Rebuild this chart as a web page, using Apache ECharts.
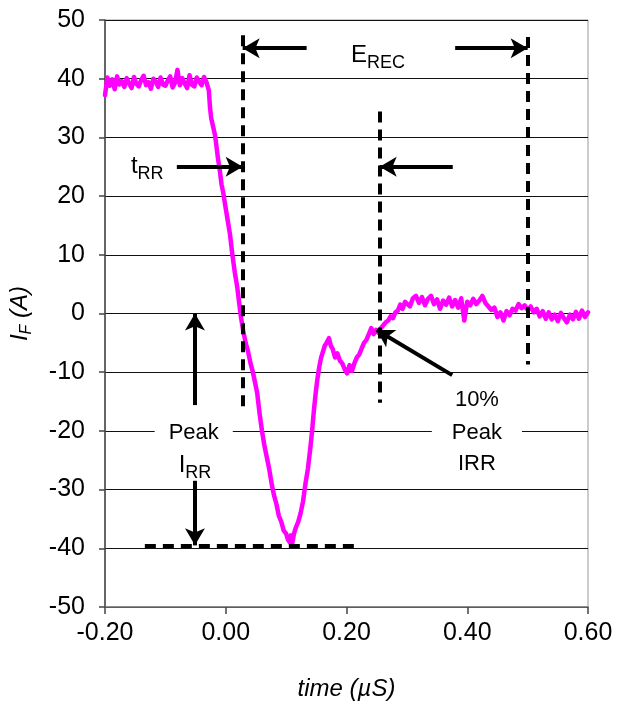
<!DOCTYPE html>
<html>
<head>
<meta charset="utf-8">
<title>Reverse recovery</title>
<script src="https://cdn.jsdelivr.net/npm/echarts@6/dist/echarts.min.js"></script>
<style>
  html, body { margin: 0; padding: 0; background: #fff; }
  #chart { width: 617px; height: 717px; }
</style>
</head>
<body>
<div id="chart"></div>
<script>
// forward current trace (time in µs, current in A)
const plateauTime = [-0.200, -0.196, -0.192, -0.188, -0.184, -0.180, -0.176, -0.172, -0.168, -0.164,
    -0.160, -0.156, -0.152, -0.148, -0.144, -0.140, -0.136, -0.132, -0.128, -0.124,
    -0.120, -0.116, -0.112, -0.108, -0.104, -0.100, -0.096, -0.092, -0.088, -0.084,
    -0.080, -0.076, -0.072, -0.068, -0.064, -0.060, -0.056, -0.052, -0.048, -0.044,
    -0.040, -0.036, -0.032];
const plateauCurrent = [37.2, 40.2, 38.8, 39.9, 38.2, 40.4, 39.0, 39.6, 38.6, 40.1,
    39.2, 38.4, 40.3, 39.1, 38.7, 39.8, 40.5, 38.9, 39.4, 38.3,
    40.0, 39.5, 38.6, 40.2, 39.0, 38.8, 39.7, 40.4, 38.5, 39.3,
    41.5, 38.9, 40.1, 39.2, 38.4, 40.6, 39.0, 38.7, 40.2, 39.5,
    38.9, 40.3, 39.4];

const recoveryTime = [-0.028, -0.026, -0.024, -0.021, -0.018, -0.016, -0.013, -0.010, -0.007, -0.004,
    -0.001, 0.003, 0.007, 0.011, 0.015, 0.019, 0.022, 0.025, 0.029, 0.033,
    0.037, 0.041, 0.045, 0.048, 0.052, 0.056, 0.060, 0.064, 0.068, 0.072,
    0.076, 0.080, 0.084, 0.088, 0.092, 0.096, 0.100, 0.103, 0.106, 0.108,
    0.110, 0.113, 0.116, 0.120, 0.124, 0.128, 0.132, 0.136, 0.140, 0.143,
    0.146, 0.149, 0.152, 0.155, 0.158, 0.161, 0.164, 0.167, 0.171, 0.174,
    0.177, 0.181, 0.185, 0.189, 0.193, 0.197, 0.201, 0.205, 0.209, 0.213,
    0.217, 0.221, 0.225, 0.229, 0.233, 0.237, 0.241, 0.245, 0.249, 0.253,
    0.257, 0.261, 0.265, 0.269, 0.273, 0.277, 0.281, 0.285, 0.289, 0.293, 0.297];
const recoveryCurrent = [38.0, 35.0, 33.2, 33.0, 30.5, 29.0, 26.5, 24.5, 22.0, 20.5,
    18.5, 16.0, 13.5, 10.0, 7.0, 4.5, 2.0, -0.5, -3.0, -5.0,
    -6.5, -8.5, -10.0, -11.5, -13.5, -17.0, -20.0, -22.5, -24.5, -26.5,
    -29.0, -31.0, -32.5, -34.5, -35.5, -37.0, -37.5, -38.5, -39.0, -37.8,
    -39.2, -37.5, -36.5, -35.5, -34.0, -32.0, -29.0, -26.5, -23.0, -20.0,
    -16.5, -13.5, -11.0, -9.0, -7.5, -6.5, -5.5, -5.0, -4.2, -5.5,
    -6.0, -7.5, -6.8, -8.0, -8.5, -9.5, -10.2, -8.8, -9.8, -8.5,
    -7.5, -7.0, -6.0, -5.0, -4.5, -3.5, -2.5, -3.5, -2.8, -3.3,
    -2.5, -2.0, -1.5, -1.2, -0.5, -0.8, 0.2, 0.5, 1.5, 0.8, 2.0];

const tailTime = [0.300, 0.305, 0.310, 0.315, 0.320, 0.325, 0.330, 0.335, 0.340, 0.345,
    0.350, 0.355, 0.360, 0.365, 0.370, 0.375, 0.380, 0.385, 0.390, 0.395,
    0.400, 0.405, 0.410, 0.415, 0.420, 0.425, 0.430, 0.435, 0.440, 0.445,
    0.450, 0.455, 0.460, 0.465, 0.470, 0.475, 0.480, 0.485, 0.490, 0.495,
    0.500, 0.505, 0.510, 0.515, 0.520, 0.525, 0.530, 0.535, 0.540, 0.545,
    0.550, 0.555, 0.560, 0.565, 0.570, 0.575, 0.580, 0.585, 0.590, 0.595, 0.600];
const tailCurrent = [2.0, 1.2, 2.6, 3.0, 1.8, 2.8, 1.4, 2.5, 3.0, 1.6,
    2.4, 0.8, 2.2, 1.5, 2.7, 1.2, 2.3, 1.0, 2.6, -1.2,
    2.0, 1.4, 2.5, 1.6, 2.2, 3.0, 1.8, 1.2, 0.6, 1.0,
    -0.6, 0.2, -1.2, 0.4, -0.3, 0.8, 0.5, 1.6, 0.9, 1.4,
    0.6, 1.2, 0.2, 0.8, -0.5, 0.4, -0.9, 0.2, -1.0, -0.2,
    -1.3, 0.1, -0.8, -1.5, -0.2, -1.0, 0.3, -0.9, 0.5, -0.6, 0.2];

// dashed guide lines [x1, y1, x2, y2]
const guideLines = [
    [0.028, 47.4, 0.028, -15.9],
    [0.255, 34.4, 0.255, -15.2],
    [0.500, 47.1, 0.500, -8.7],
    [-0.134, -39.5, 0.214, -39.5]
];
// arrows, tail -> head
const arrowLines = [
    [0.134, 45.2, 0.028, 45.2],
    [0.380, 45.2, 0.500, 45.2],
    [-0.081, 25.0, 0.028, 25.0],
    [0.376, 25.0, 0.255, 25.0],
    [-0.051, -15.6, -0.051, 0.0],
    [-0.051, -28.5, -0.051, -39.5],
    [0.375, -10.5, 0.250, -2.8]
];
const noteX = [0.252, -0.130, -0.053, -0.051, 0.416, 0.416, 0.416];
const noteY = [43.9, 25.0, -20.3, -25.9, -14.7, -20.3, -25.6];
const noteText = ['{b|E}{s|REC}', '{b|t}{s|RR}', 'Peak', '{b|I}{s|RR}', '10%', 'Peak', 'IRR'];

const xTicks = [-0.2, 0.0, 0.2, 0.4, 0.6];

const FONT = '"Liberation Sans", Arial, sans-serif';

const trace = [];
[[plateauTime, plateauCurrent], [recoveryTime, recoveryCurrent], [tailTime, tailCurrent]].forEach(([t, c]) => {
    t.forEach((v, i) => trace.push([v, c[i]]));
});

const toPairs = list => list.map(l => [{ coord: [l[0], l[1]] }, { coord: [l[2], l[3]] }]);

const richText = {
    b: { fontSize: 24, fontFamily: FONT, color: '#000', lineHeight: 32 },
    s: { fontSize: 18, fontFamily: FONT, color: '#000', lineHeight: 18, verticalAlign: 'bottom' }
};

const notes = noteText.map((txt, i) => {
    const item = { value: [noteX[i], noteY[i]], label: { formatter: txt } };
    if (txt === 'Peak') {
        item.label.backgroundColor = '#fff';
        // the right-hand box is a little wider than the left one
        item.label.padding = noteX[i] > 0 ? [2, 20] : [2, 14];
    }
    return item;
});

const chart = echarts.init(document.getElementById('chart'));
chart.setOption({
    animation: false,
    backgroundColor: '#fff',
    grid: {
        left: 105,
        right: 29,
        top: 20,
        bottom: 110,
        show: true,
        borderColor: '#999',
        borderWidth: 1
    },
    xAxis: {
        type: 'value',
        min: -0.2,
        max: 0.6,
        interval: 0.2,
        name: 'time (µS)',
        nameLocation: 'middle',
        nameGap: 70,
        nameTextStyle: { fontSize: 24, fontStyle: 'italic', fontFamily: FONT, color: '#000' },
        axisLine: { onZero: false, lineStyle: { color: '#777', width: 1.5 } },
        axisTick: { show: true, length: 7, lineStyle: { color: '#444', width: 1.5 }, customValues: xTicks },
        axisLabel: { fontSize: 25, fontFamily: FONT, color: '#000', margin: 14, formatter: v => v.toFixed(2) },
        splitLine: { show: false }
    },
    yAxis: {
        type: 'value',
        min: -50,
        max: 50,
        interval: 10,
        name: '{i|I}{f|F}{i| (A)}',
        nameLocation: 'middle',
        nameGap: 70,
        nameTextStyle: {
            rich: {
                i: { fontSize: 24, fontStyle: 'italic', fontFamily: FONT, color: '#000', lineHeight: 30 },
                f: { fontSize: 16, fontStyle: 'italic', fontFamily: FONT, color: '#000', lineHeight: 16, verticalAlign: 'bottom' }
            }
        },
        axisLine: { show: true, onZero: false, lineStyle: { color: '#444', width: 1.5 } },
        axisTick: { show: true, length: 6, lineStyle: { color: '#444', width: 1.5 } },
        axisLabel: { fontSize: 25, fontFamily: FONT, color: '#000', margin: 20 },
        splitLine: { show: true, lineStyle: { color: '#111', width: 1 } }
    },
    series: [
        {
            name: 'IF',
            type: 'line',
            data: trace,
            showSymbol: false,
            symbol: 'none',
            lineStyle: { color: '#ff00ff', width: 4.5, join: 'round', cap: 'round' },
            z: 2,
            silent: true
        },
        {
            name: 'guides',
            type: 'line',
            data: [],
            silent: true,
            z: 3,
            markLine: {
                silent: true,
                symbol: ['none', 'none'],
                label: { show: false },
                lineStyle: { color: '#000', width: 4, type: [11, 7] },
                data: toPairs(guideLines)
            }
        },
        {
            name: 'arrows',
            type: 'line',
            data: [],
            silent: true,
            z: 4,
            markLine: {
                silent: true,
                symbol: ['none', 'arrow'],
                symbolSize: [15, 17],
                label: { show: false },
                lineStyle: { color: '#000', width: 4, type: 'solid' },
                itemStyle: { color: '#000' },
                data: toPairs(arrowLines)
            }
        },
        {
            name: 'notes',
            type: 'scatter',
            data: notes,
            symbolSize: 0,
            silent: true,
            z: 5,
            itemStyle: { opacity: 1 },
            label: {
                show: true,
                position: 'inside',
                fontSize: 22,
                fontFamily: FONT,
                color: '#000',
                opacity: 1,
                rich: richText
            }
        }
    ]
});
</script>
</body>
</html>
